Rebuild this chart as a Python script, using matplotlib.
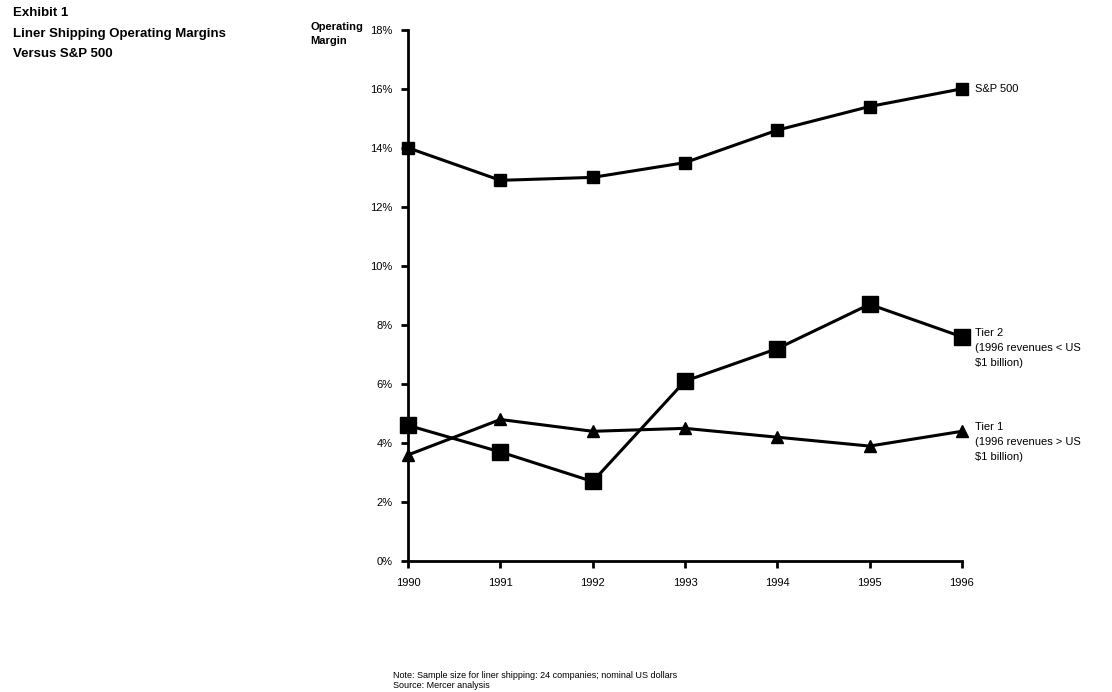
import matplotlib
matplotlib.use("Agg")
import matplotlib.pyplot as plt
from matplotlib.ticker import FuncFormatter

years = [1990, 1991, 1992, 1993, 1994, 1995, 1996]
sp500 = [14.0, 12.9, 13.0, 13.5, 14.6, 15.4, 16.0]
tier2 = [4.6, 3.7, 2.7, 6.1, 7.2, 8.7, 7.6]
tier1 = [3.6, 4.8, 4.4, 4.5, 4.2, 3.9, 4.4]
yticks = [0, 2, 4, 6, 8, 10, 12, 14, 16, 18]

plt.rcParams['font.family'] = ['Liberation Sans', 'DejaVu Sans']

fig = plt.figure(figsize=(11.12, 6.92), dpi=100)
ax = fig.add_axes([0.367, 0.189, 0.498, 0.768])

ax.plot(years, sp500, color='black', lw=2.2, marker='s', ms=9)
ax.plot(years, tier2, color='black', lw=2.2, marker='s', ms=11)
ax.plot(years, tier1, color='black', lw=2.2, marker='^', ms=8)

ax.set_xlim(1990, 1996)
ax.set_ylim(0, 18)
ax.set_xticks(years)
ax.set_yticks(yticks)
ax.yaxis.set_major_formatter(FuncFormatter(lambda v, p: f"{v:.0f}%"))
for s in ['top', 'right']:
    ax.spines[s].set_visible(False)
for s in ['left', 'bottom']:
    ax.spines[s].set_linewidth(2)
ax.tick_params(axis='both', width=2, length=5, labelsize=8)
ax.tick_params(axis='x', pad=7)
ax.tick_params(axis='y', pad=6)
for line in ax.lines:
    line.set_clip_on(False)

ax.text(1996.14, sp500[-1], "S&P 500", fontsize=8, va='center', ha='left')
ax.text(1996.14, tier2[-1] + 0.3, "Tier 2\n(1996 revenues < US\n$1 billion)",
        fontsize=8, va='top', ha='left', linespacing=1.6)
ax.text(1996.14, tier1[-1] + 0.3, "Tier 1\n(1996 revenues > US\n$1 billion)",
        fontsize=8, va='top', ha='left', linespacing=1.6)

fig.text(0.279, 0.961, "Operating", fontsize=8, fontweight='bold',
         va='center', ha='left')
fig.text(0.279, 0.941, "Margin", fontsize=8, fontweight='bold',
         va='center', ha='left')

fig.text(0.012, 0.99, "Exhibit 1", fontsize=9.5, fontweight='bold', va='top')
fig.text(0.012, 0.96, "Liner Shipping Operating Margins", fontsize=9.5,
         fontweight='bold', va='top')
fig.text(0.012, 0.93, "Versus S&P 500", fontsize=9.5, fontweight='bold', va='top')

fig.text(0.353, 0.003, "Note: Sample size for liner shipping: 24 companies; nominal US dollars\nSource: Mercer analysis",
         fontsize=6.5, va='bottom', ha='left', linespacing=1.1)

fig.savefig("out.png", dpi=100)
